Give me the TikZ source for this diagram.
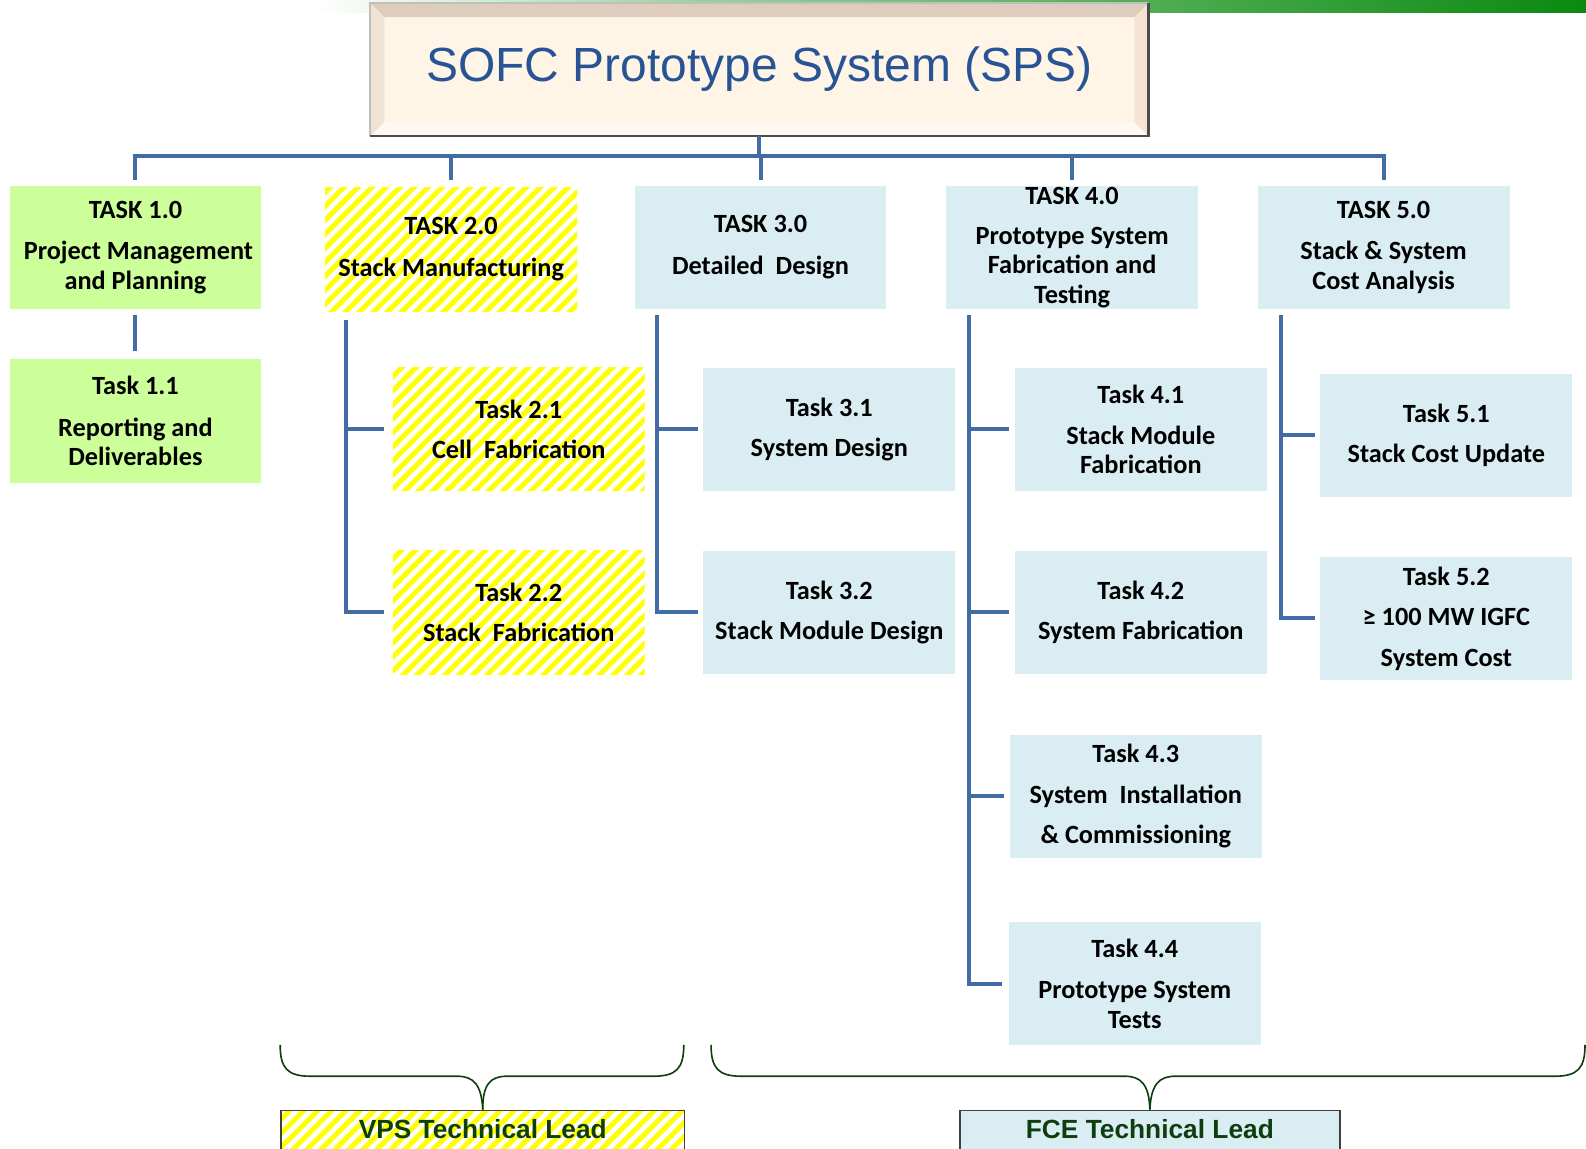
\documentclass[tikz,border=0pt]{standalone}
\usepackage{fontspec}
\setmainfont{Carlito}
\newfontfamily\arialfont{Liberation Sans}
\usetikzlibrary{patterns.meta}
\definecolor{wbsblue}{RGB}{65,108,165}
\definecolor{titleblue}{RGB}{40,84,150}
\definecolor{mgmtgreen}{RGB}{204,255,153}
\definecolor{fceblue}{RGB}{218,237,243}
\definecolor{vpsyellow}{RGB}{255,255,0}
\definecolor{leadgreen}{RGB}{14,62,14}
\definecolor{barlight}{RGB}{150,210,150}
\definecolor{bargreen}{RGB}{10,137,16}
\definecolor{cream}{RGB}{254,245,230}
\definecolor{bevtop}{RGB}{222,205,188}
\definecolor{bevleft}{RGB}{240,226,212}
\definecolor{bevbottom}{RGB}{255,248,238}
\definecolor{bevright}{RGB}{246,228,210}

\begin{document}
\begin{tikzpicture}[x=0.5pt,y=-0.5pt,
  box/.style={anchor=north west,minimum width=124.5pt,minimum height=61pt,inner sep=0pt,align=center,font=\fontsize{13}{14.5}\selectfont\bfseries},
  mgmt/.style={box,fill=mgmtgreen},
  vps/.style={box,pattern={Lines[angle=45,distance=4.9pt,line width=2.5pt]},pattern color=vpsyellow},
  fce/.style={box,fill=fceblue},
  link/.style={draw=wbsblue,line width=2pt},
  lead/.style={anchor=north west,draw=black!75,line width=0.8pt,inner sep=0pt,text height=14pt,text depth=12pt,font=\arialfont\fontsize{13}{15}\selectfont\bfseries,text=leadgreen},
  brace/.style={draw=leadgreen,line width=0.8pt}]
\useasboundingbox (0,0) rectangle (1568,1135);

% banner
\shade[left color=white,right color=barlight] (310,0) rectangle (700,12.5);
\shade[left color=barlight,right color=bargreen] (700,0) rectangle (1568,12.5);
\node[anchor=north west,minimum width=384pt,minimum height=65pt,fill=cream,draw=black!25,line width=0.8pt,
      font=\arialfont\fontsize{23.7}{28}\selectfont,text=titleblue] (title) at (366,3) {SOFC Prototype System (SPS)};
\fill[bevtop] (title.north west) -- (title.north east) -- ([shift={(-14,14)}]title.north east) -- ([shift={(14,14)}]title.north west) -- cycle;
\fill[bevleft] (title.north west) -- ([shift={(14,14)}]title.north west) -- ([shift={(14,-14)}]title.south west) -- (title.south west) -- cycle;
\fill[bevbottom] (title.south west) -- ([shift={(14,-14)}]title.south west) -- ([shift={(-14,-14)}]title.south east) -- (title.south east) -- cycle;
\fill[bevright] (title.north east) -- ([shift={(-14,14)}]title.north east) -- ([shift={(-14,-14)}]title.south east) -- (title.south east) -- cycle;
\draw[black!25,line width=0.8pt] (title.south west) -- (title.north west) -- (title.north east);
\draw[black!70,line width=1.2pt] (title.north east) -- (title.south east) -- (title.south west);

% level 1
\node[mgmt] (t1) at (9,183) {TASK 1.0\\[6pt]\ Project Management\\and Planning};
\node[vps] (t2) at (319,183) {TASK 2.0\\[6pt]Stack Manufacturing};
\node[fce] (t3) at (627,183) {TASK 3.0\\[6pt]Detailed\ \ Design};
\node[fce] (t4) at (935,183) {TASK 4.0\\[5.5pt]Prototype System\\Fabrication and\\Testing};
\node[fce] (t5) at (1243,183) {TASK 5.0\\[6pt]Stack \& System\\Cost Analysis};

% level 2
\node[mgmt] (t11) at (9,355) {Task 1.1\\[6pt]Reporting and\\Deliverables};
\node[vps] (t21) at (388,363) {Task 2.1\\[5.5pt]Cell\ \ Fabrication};
\node[vps] (t22) at (388,544) {Task 2.2\\[5.5pt]Stack\ \ Fabrication};
\node[fce] (t31) at (695,363) {Task 3.1\\[5.5pt]System Design};
\node[fce] (t32) at (695,544) {Task 3.2\\[5.5pt]Stack Module Design};
\node[fce] (t41) at (1003,363) {Task 4.1\\[6pt]Stack Module\\Fabrication};
\node[fce] (t42) at (1003,544) {Task 4.2\\[5.5pt]System Fabrication};
\node[fce] (t43) at (998,726) {Task 4.3\\[5.5pt]System\ \ Installation\\[5.5pt]\& Commissioning};
\node[fce] (t44) at (997,911) {Task 4.4\\[6pt]Prototype System\\Tests};
\node[fce] (t51) at (1305,369) {Task 5.1\\[5.5pt]Stack Cost Update};
\node[fce] (t52) at (1305,550) {Task 5.2\\[5.5pt]≥ 100 MW IGFC\\[5.5pt]System Cost};

% links
\draw[link] (title.south) -- ++(0,20) coordinate (hub);
\draw[link] ([yshift=2.5pt]t1.north) |- (hub) -| ([yshift=2.5pt]t5.north);
\foreach \n in {t2,t3,t4}
  \draw[link] (\n.north |- hub) -- ([yshift=2.5pt]\n.north);
\draw[link] ([yshift=-3pt]t1.south) -- ([yshift=4pt]t11.north);

\draw[link] ([xshift=11.5pt,yshift=-3pt]t2.south west) coordinate (c2) |- ([xshift=-4pt]t22.west);
\draw[link] (c2 |- t21.west) -- ([xshift=-4pt]t21.west);
\draw[link] ([xshift=11.5pt,yshift=-3pt]t3.south west) coordinate (c3) |- ([xshift=-2.5pt]t32.west);
\draw[link] (c3 |- t31.west) -- ([xshift=-2.5pt]t31.west);
\draw[link] ([xshift=11.5pt,yshift=-3pt]t4.south west) coordinate (c4) |- ([xshift=-3pt]t44.west);
\foreach \b in {t41,t42,t43}
  \draw[link] (c4 |- \b.west) -- ([xshift=-2.5pt]\b.west);
\draw[link] ([xshift=11.5pt,yshift=-3pt]t5.south west) coordinate (c5) |- ([xshift=-2.5pt]t52.west);
\draw[link] (c5 |- t51.west) -- ([xshift=-2.5pt]t51.west);

% leads
\node[lead,minimum width=199.5pt,pattern={Lines[angle=45,distance=4.9pt,line width=2.5pt]},pattern color=vpsyellow] (vpslead) at (277,1097) {VPS Technical Lead};
\node[lead,minimum width=188pt,fill=fceblue] (fcelead) at (948,1097) {FCE Technical Lead};
\draw[brace] (277,1033) .. controls (277,1056) and (284,1064) .. (307,1064) -- (452,1064) .. controls (468,1064) and (476,1072) .. (vpslead.north);
\draw[brace] (676,1033) .. controls (676,1056) and (669,1064) .. (646,1064) -- (501,1064) .. controls (485,1064) and (477,1072) .. (vpslead.north);
\draw[brace] (703,1033) .. controls (703,1056) and (710,1064) .. (733,1064) -- (1112,1064) .. controls (1128,1064) and (1136,1072) .. (fcelead.north);
\draw[brace] (1567,1033) .. controls (1567,1056) and (1560,1064) .. (1537,1064) -- (1162,1064) .. controls (1146,1064) and (1138,1072) .. (fcelead.north);
\end{tikzpicture}
\end{document}
